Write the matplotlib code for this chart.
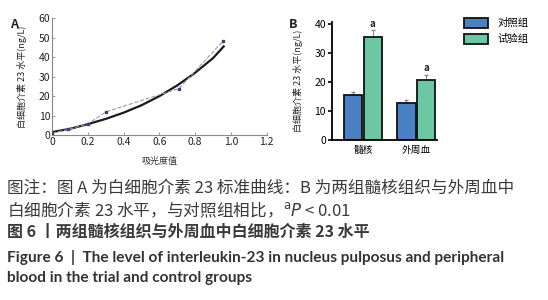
import matplotlib.pyplot as plt
from matplotlib.patches import Patch

plt.rcParams['font.family'] = ['Noto Sans CJK SC', 'DejaVu Sans']
plt.rcParams['mathtext.fontset'] = 'dejavusans'

# --- Panel A: standard curve ---
abs_pts = [0.0, 0.09, 0.20, 0.30, 0.71, 0.955]
il23_pts = [1.0, 2.9, 5.7, 11.9, 23.9, 48.2]
# fitted curve
fit_x = [0.0, 0.1, 0.2, 0.3, 0.4, 0.5, 0.6, 0.7, 0.8, 0.9, 0.96]
fit_y = [1.5, 3.2, 5.6, 8.3, 11.5, 15.3, 20.0, 25.5, 32.0, 39.5, 45.5]
a_xticks = [0, 0.2, 0.4, 0.6, 0.8, 1.0, 1.2]
a_yticks = [0, 10, 20, 30, 40, 50, 60]

# --- Panel B: bar chart ---
groups = ['髓核', '外周血']
control = [15.4, 12.9]
control_err = [1.3, 1.1]
trial = [35.4, 20.8]
trial_err = [2.3, 1.7]
b_yticks = [0, 10, 20, 30, 40]

caption_lines = [
    '图注：图 A 为白细胞介素 23 标准曲线：B 为两组髓核组织与外周血中',
    r'白细胞介素 23 水平，与对照组相比，$^{\mathrm{a}}\mathit{P}$ < 0.01',
    '图 6 丨两组髓核组织与外周血中白细胞介素 23 水平',
]
caption_en = [
    'Figure 6  |  The level of interleukin-23 in nucleus pulposus and peripheral',
    'blood in the trial and control groups',
]

fig = plt.figure(figsize=(5.48, 3.0), dpi=100)

# Panel A
axA = fig.add_axes([0.0954, 0.55, 0.391, 0.389])
axA.plot(fit_x, fit_y, color='#1a1a1a', lw=1.6, zorder=2)
axA.plot(abs_pts, il23_pts, color='#9a9aa8', lw=0.8, ls='--',
         marker='s', ms=2.0, mfc='#3a3f7a', mec='#3a3f7a', zorder=3)
axA.set_xlim(0, 1.2)
axA.set_ylim(0, 60)
axA.set_xticks(a_xticks)
axA.set_xticklabels(['0', '0.2', '0.4', '0.6', '0.8', '1.0', '1.2'])
axA.set_yticks(a_yticks)
for s in ['top', 'right']:
    axA.spines[s].set_visible(False)
for s in ['left', 'bottom']:
    axA.spines[s].set_color('#888888')
    axA.spines[s].set_linewidth(0.8)
axA.tick_params(direction='in', length=2, width=0.6, color='#888888',
                labelsize=7.5, pad=1.5, labelcolor='#222222')
axA.set_xlabel('吸光度值', fontsize=6.5, color='#333333')
axA.xaxis.set_label_coords(0.5, -0.19)
axA.set_ylabel('白细胞介素 23 水平(ng/L)', fontsize=6.5, color='#222222')
axA.yaxis.set_label_coords(-0.12, 0.5)
fig.text(0.018, 0.905, 'A', fontsize=9, fontweight='bold', color='#222222')

# Panel B
axB = fig.add_axes([0.605, 0.532, 0.1916, 0.394])
w = 0.35
xs = [0, 1]
xc = [x - w / 2 - 0.01 for x in xs]
xt = [x + w / 2 + 0.01 for x in xs]
axB.bar(xc, control, width=w, color='#4a80c4', edgecolor='#111111', lw=1.3, zorder=2)
axB.bar(xt, trial, width=w, color='#6cc7a3', edgecolor='#111111', lw=1.3, zorder=2)
axB.errorbar(xc, control, yerr=[[0, 0], control_err], fmt='none',
             ecolor='#888888', elinewidth=0.7, capsize=1.2, zorder=1)
axB.errorbar(xt, trial, yerr=[[0, 0], trial_err], fmt='none',
             ecolor='#888888', elinewidth=0.7, capsize=1.2, zorder=1)
for x, v, e in zip(xt, trial, trial_err):
    axB.text(x, v + e + 0.6, 'a', ha='center', va='bottom', fontsize=7,
             fontweight='bold', color='#222222')
axB.set_xlim(-0.59, 1.38)
axB.set_ylim(0, 40.5)
axB.set_yticks(b_yticks)
axB.set_xticks(xs)
axB.set_xticklabels(groups, fontsize=7)
for s in ['top', 'right']:
    axB.spines[s].set_visible(False)
for s in ['left', 'bottom']:
    axB.spines[s].set_linewidth(1.3)
axB.tick_params(axis='y', labelsize=7.5, width=1.2, length=3, pad=1)
axB.tick_params(axis='x', length=0, pad=3)
axB.set_ylabel('白细胞介素 23 水平(ng/L)', fontsize=6.5, color='#222222')
axB.yaxis.set_label_coords(-0.27, 0.5)
fig.text(0.527, 0.905, 'B', fontsize=9, fontweight='bold', color='#222222')

handles = [Patch(facecolor='#4a80c4', edgecolor='#111111', lw=1.3, label='对照组'),
           Patch(facecolor='#6cc7a3', edgecolor='#111111', lw=1.3, label='试验组')]
fig.legend(handles=handles, loc='upper left', bbox_to_anchor=(0.84, 0.955),
           frameon=False, fontsize=7.5, handlelength=2.3, handleheight=1.1,
           labelspacing=0.55, handletextpad=0.9, borderaxespad=0)

# Caption
ys = [0.373, 0.300, 0.227]
for i, (y, line) in enumerate(zip(ys, caption_lines)):
    fig.text(0.012, y, line, fontsize=11.5 if i == 2 else 12, color='#3a3a3a',
             va='center', fontweight='bold' if i == 2 else 'normal')
for y, line in zip([0.143, 0.073], caption_en):
    fig.text(0.012, y, line, fontsize=11.1, color='#333333', va='center',
             fontweight='bold', family=['Lato', 'DejaVu Sans'])

plt.savefig('out.png', dpi=100)
